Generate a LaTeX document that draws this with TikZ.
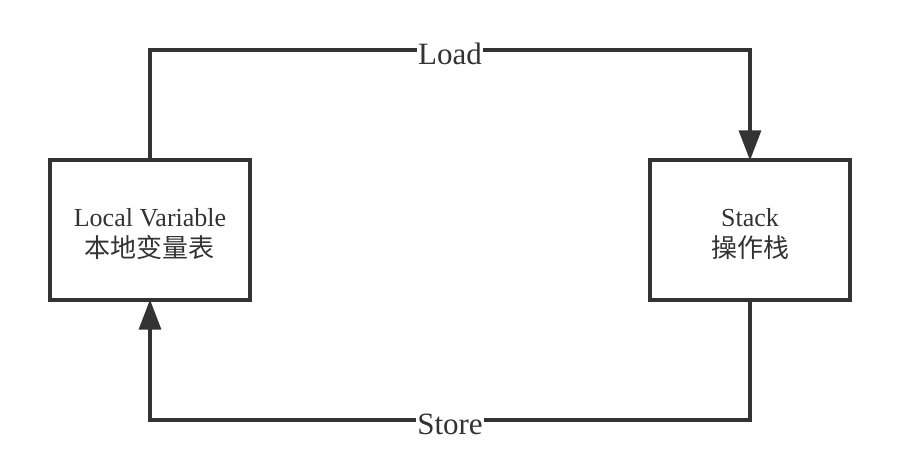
\documentclass[tikz,border=0pt]{standalone}
\usepackage{fontspec}
\setmainfont{Liberation Serif}
\newfontfamily\cjk{Noto Sans CJK SC}
\usetikzlibrary{arrows.meta}
\definecolor{ink}{HTML}{333333}
\begin{document}
\begin{tikzpicture}[x=0.75pt,y=-0.75pt]
    % Node styles
    \tikzstyle{store} = [rectangle, draw=ink, line width=2.4pt, minimum width=150pt, minimum height=105pt]
    \tikzstyle{boxtext} = [align=center, text=ink, inner sep=0pt, font=\fontsize{19.5}{23}\selectfont]
    \tikzstyle{arrow} = [-{Triangle[length=22.5pt,width=16.5pt]}, draw=ink, line width=2.4pt, shorten >=-1.5pt]
    \tikzstyle{lbl} = [fill=white, inner sep=1pt, text=ink, font=\fontsize{23.25}{27}\selectfont]

    \useasboundingbox (0,0) rectangle (900,470);

    % Nodes
    \node (local) at (150, 230) [store] {};
    \node (stack) at (750, 230) [store] {};
    \node (localtxt) at (150, 234) [boxtext] {Local Variable\\{\cjk 本地变量表}};
    \node (stacktxt) at (750, 234) [boxtext] {Stack\\{\cjk 操作栈}};
    \coordinate (loadmid) at (450, 50);
    \coordinate (storemid) at (450, 420);

    % Arrows
    \draw[arrow] (local.north) |- (loadmid) -| (stack.north);
    \draw[arrow] (stack.south) |- (storemid) -| (local.south);

    % Labels
    \node (loadlbl) at (loadmid) [lbl, yshift=-3pt] {Load};
    \node (storelbl) at (storemid) [lbl, yshift=-3pt] {Store};

\end{tikzpicture}
\end{document}
